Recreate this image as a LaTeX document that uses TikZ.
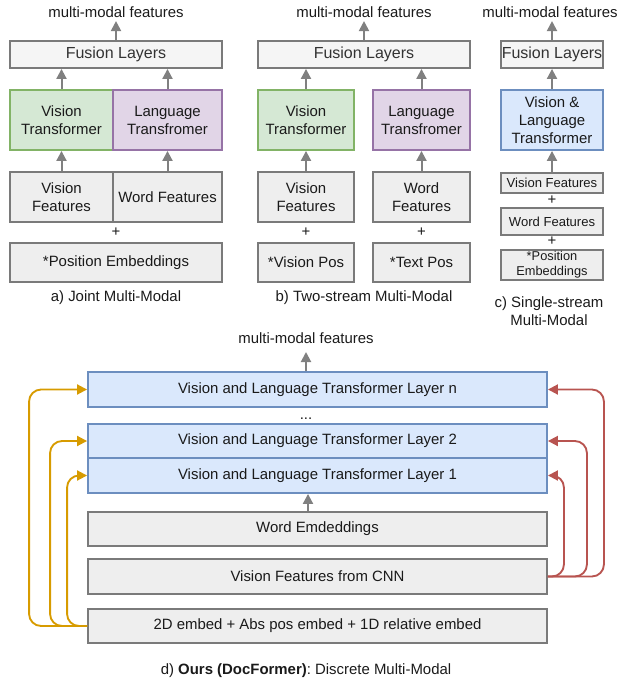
\documentclass[tikz,border=0pt]{standalone}
\usepackage{fontspec}
\setmainfont{Liberation Sans}
\usetikzlibrary{arrows.meta}
\definecolor{boxgray}{HTML}{EEEEEE}
\definecolor{fusgray}{HTML}{F5F5F5}
\definecolor{edgegray}{HTML}{7A7A7A}
\definecolor{arrgray}{HTML}{808080}
\definecolor{gfill}{HTML}{D5E8D4}
\definecolor{gedge}{HTML}{82B366}
\definecolor{pfill}{HTML}{E1D5E7}
\definecolor{pedge}{HTML}{9673A6}
\definecolor{bfill}{HTML}{DAE8FC}
\definecolor{bedge}{HTML}{6C8EBF}
\definecolor{orng}{HTML}{D79B00}
\definecolor{rdd}{HTML}{B85450}
\definecolor{txt}{HTML}{1A1A1A}
\tikzset{
  base/.style={draw, line width=1.4pt, inner sep=0pt, align=center, text=txt,
    font=\fontsize{11.2}{13.5}\selectfont},
  graybox/.style={base, draw=edgegray, fill=boxgray},
  fusbox/.style={base, draw=edgegray, fill=fusgray, text=black!80,
    font=\fontsize{12}{14}\selectfont},
  greenbox/.style={base, draw=gedge, fill=gfill},
  purplebox/.style={base, draw=pedge, fill=pfill},
  bluebox/.style={base, draw=bedge, fill=bfill},
  lbl/.style={inner sep=0pt, align=center, text=txt, font=\fontsize{11.2}{13.5}\selectfont},
  smalllbl/.style={font=\fontsize{9.8}{11.5}\selectfont},
  garrow/.style={draw=arrgray, line width=1.5pt, -{Triangle[length=7.5pt,width=7.5pt]}},
  oarrow/.style={draw=orng, line width=1.4pt, rounded corners=9pt, -{Triangle[length=7.5pt,width=7.5pt]}},
  rarrow/.style={draw=rdd, line width=1.4pt, rounded corners=9pt, -{Triangle[length=7.5pt,width=7.5pt]}},
}
\begin{document}
\frenchspacing
\begin{tikzpicture}[x=0.75pt,y=-0.75pt]
\useasboundingbox (0,0) rectangle (625,681);
% ---------- a) ----------
\node[lbl] (mmA) at (116,12) {multi-modal features};
\node[fusbox, minimum width=212*0.75pt, minimum height=27*0.75pt] (fusA) at (116,54.5) {Fusion Layers};
\node[greenbox, minimum width=103*0.75pt, minimum height=60*0.75pt] (vtA) at (61.5,120) {Vision\\Transformer};
\node[purplebox, minimum width=109*0.75pt, minimum height=60*0.75pt] (ltA) at (167.5,120) {Language\\Transfromer};
\node[graybox, minimum width=103*0.75pt, minimum height=50*0.75pt] (vfA) at (61.5,197) {Vision\\Features};
\node[graybox, minimum width=109*0.75pt, minimum height=50*0.75pt] (wfA) at (167.5,197) {Word Features};
\node[lbl] (plA) at (116,232) {+};
\node[graybox, minimum width=212*0.75pt, minimum height=39*0.75pt] (peA) at (116,262.5) {*Position Embeddings};
\node[lbl] (capA) at (116,298) {a) Joint Multi-Modal};
\draw[garrow] (fusA.north) -- ([yshift=19*0.75pt]fusA.north);
\draw[garrow] (vtA.north) -- (vtA.north |- fusA.south);
\draw[garrow] (ltA.north) -- (ltA.north |- fusA.south);
\draw[garrow] (vfA.north) -- (vtA.south);
\draw[garrow] (wfA.north) -- (ltA.south);
% ---------- b) ----------
\node[lbl] (mmB) at (364,12) {multi-modal features};
\node[fusbox, minimum width=212*0.75pt, minimum height=27*0.75pt] (fusB) at (364,54.5) {Fusion Layers};
\node[greenbox, minimum width=96*0.75pt, minimum height=60*0.75pt] (vtB) at (306,120) {Vision\\Transformer};
\node[purplebox, minimum width=97*0.75pt, minimum height=60*0.75pt] (ltB) at (421.5,120) {Language\\Transfromer};
\node[graybox, minimum width=96*0.75pt, minimum height=50*0.75pt] (vfB) at (306,197) {Vision\\Features};
\node[graybox, minimum width=97*0.75pt, minimum height=50*0.75pt] (wfB) at (421.5,197) {Word\\Features};
\node[lbl] (plB1) at (306,232) {+};
\node[lbl] (plB2) at (421.5,232) {+};
\node[graybox, minimum width=96*0.75pt, minimum height=39*0.75pt] (vpB) at (306,262.5) {*Vision Pos};
\node[graybox, minimum width=97*0.75pt, minimum height=39*0.75pt] (tpB) at (421.5,262.5) {*Text Pos};
\node[lbl] (capB) at (364,298) {b) Two-stream Multi-Modal};
\draw[garrow] (fusB.north) -- ([yshift=19*0.75pt]fusB.north);
\draw[garrow] (vtB.north) -- (vtB.north |- fusB.south);
\draw[garrow] (ltB.north) -- (ltB.north |- fusB.south);
\draw[garrow] (vfB.north) -- (vtB.south);
\draw[garrow] (wfB.north) -- (ltB.south);
% ---------- c) ----------
\node[lbl] (mmC) at (550,12) {multi-modal features};
\node[fusbox, minimum width=102*0.75pt, minimum height=27*0.75pt] (fusC) at (552,54.5) {Fusion Layers};
\node[bluebox, minimum width=102*0.75pt, minimum height=60*0.75pt] (vlC) at (552,120) {Vision \&\\Language\\Transformer};
\node[graybox, smalllbl, minimum width=102*0.75pt, minimum height=20*0.75pt] (vfC) at (552,183) {Vision Features};
\node[lbl] (plC1) at (552,200) {+};
\node[graybox, smalllbl, minimum width=102*0.75pt, minimum height=27*0.75pt] (wfC) at (552,221.5) {Word Features};
\node[lbl] (plC2) at (552,241) {+};
\node[graybox, font=\fontsize{9.6}{11}\selectfont, minimum width=102*0.75pt, minimum height=30*0.75pt] (peC) at (552,265) {*Position\\Embeddings};
\node[lbl] (capC) at (549,311.5) {c) Single-stream\\Multi-Modal};
\draw[garrow] (fusC.north) -- ([yshift=19*0.75pt]fusC.north);
\draw[garrow] (vlC.north) -- (fusC.south);
\draw[garrow] (vfC.north) -- (vlC.south);
% ---------- d) ----------
\node[lbl] (mmD) at (306,338) {multi-modal features};
\node[bluebox, minimum width=459*0.75pt, minimum height=35*0.75pt] (Ln) at (317.5,389.5) {Vision and Language Transformer Layer n};
\node[lbl] (dots) at (306,419) {...};
\node[bluebox, minimum width=459*0.75pt, minimum height=34*0.75pt] (L2) at (317.5,441) {Vision and Language Transformer Layer 2};
\node[bluebox, minimum width=459*0.75pt, minimum height=35*0.75pt] (L1) at (317.5,475.5) {Vision and Language Transformer Layer 1};
\node[graybox, minimum width=459*0.75pt, minimum height=34*0.75pt] (WE) at (317.5,529) {Word Emdeddings};
\node[graybox, minimum width=459*0.75pt, minimum height=35*0.75pt] (VC) at (317.5,576.5) {Vision Features from CNN};
\node[graybox, minimum width=459*0.75pt, minimum height=34*0.75pt] (PE) at (317.5,626) {2D embed + Abs pos embed + 1D relative embed};
\node[lbl] (capD) at (306,671) {d) \textbf{Ours (DocFormer)}: Discrete Multi-Modal};
\coordinate (topD) at (306,352);
\draw[garrow] (Ln.north -| topD) -- (topD);
\draw[garrow] ([xshift=-9.5*0.75pt]WE.north) -- ([xshift=-9.5*0.75pt]L1.south);
\draw[oarrow] (PE.west) -- ++(-58,0) |- (Ln.west);
\draw[oarrow] (PE.west) -- ++(-37,0) |- (L2.west);
\draw[oarrow] (PE.west) -- ++(-20,0) |- (L1.west);
\draw[rarrow] (VC.east) -- ++(56,0) |- (Ln.east);
\draw[rarrow] (VC.east) -- ++(39,0) |- (L2.east);
\draw[rarrow] (VC.east) -- ++(16,0) |- (L1.east);
\end{tikzpicture}
\end{document}
